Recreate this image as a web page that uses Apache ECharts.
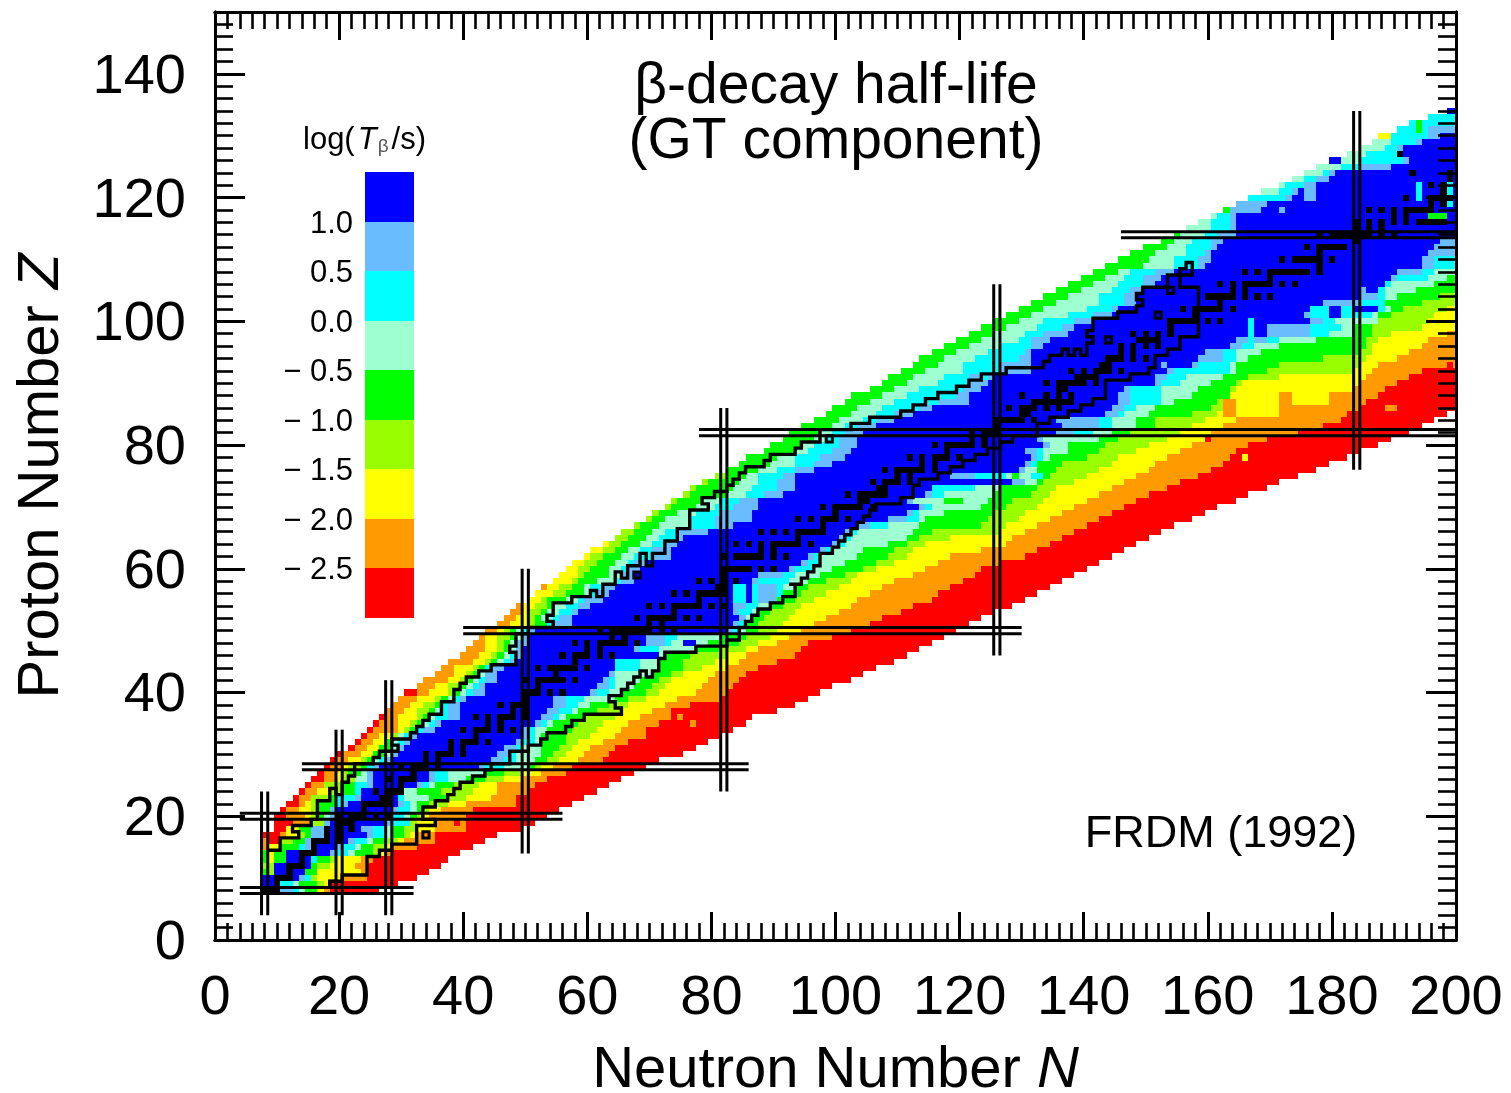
<!DOCTYPE html>
<html>
<head>
<meta charset="utf-8">
<style>html,body{margin:0;padding:0;background:#fff}#c{width:1511px;height:1093px}</style>
<script src="https://cdn.jsdelivr.net/npm/echarts@6/dist/echarts.min.js"></script>
</head>
<body>
<div id="c"></div>
<script>
// Colour classes of log(T/s), from shortest to longest half-life
const bandColors = ['#ff0000','#ff9b00','#ffff00','#99ff00','#00ff00','#9effd0','#00ffff','#69bdff','#0000ff'];
const legendEdges = [-3,-2.5,-2,-1.5,-1,-0.5,0,0.5,1,1.5];
const legendTicks = [1,0.5,0,-0.5,-1,-1.5,-2,-2.5];
const xMajor = [0,20,40,60,80,100,120,140,160,180,200];
const yMajor = [0,20,40,60,80,100,120,140];
const magicN = [[8,4,24],[20,4,34],[28,4,42],[50,14,60],[82,24,86],[126,46,106],[184,76,134]];
const magicZ = [[8,4,32],[20,4,56],[28,14,86],[50,40,130],[82,78,201],[114,146,201]];

// One row per proton number: first N of each colour run across the chart
// [red,orange,yellow,yg,green,mint,cyan,ltblue,blue, ltblue,cyan,mint,green,yg,yellow,orange,red, end]
const z8=[8,8,8,8,8,8,8,8,8,11,13,14,15,17,17,18,19,27];
const z9=[8,8,8,8,8,8,8,8,8,11,11,13,14,17,18,19,19,30];
const z10=[8,8,8,8,8,8,8,8,8,14,15,16,16,16,17,21,25,33];
const z11=[8,8,8,8,8,10,10,10,10,15,15,15,15,17,17,24,25,35];
const z12=[8,8,8,8,10,10,10,10,10,16,16,16,16,17,19,23,25,37];
const z13=[8,8,8,8,8,12,12,12,12,16,16,17,17,19,20,24,26,38];
const z14=[8,8,8,8,8,12,12,12,12,19,20,22,23,26,27,28,29,40];
const z15=[8,8,9,11,11,14,14,15,16,20,21,23,24,26,28,29,33,42];
const z16=[8,11,11,11,13,15,15,15,16,22,23,25,26,28,30,31,36,44];
const z17=[8,11,12,14,15,16,16,16,18,25,26,28,29,31,32,33,36,46];
const z18=[10,12,12,14,14,16,16,16,18,24,26,28,29,31,33,36,41,50];
const z19=[10,13,16,16,18,18,18,18,19,28,29,32,32,32,33,36,41,52];
const z20=[10,12,15,16,17,18,19,19,20,28,29,31,32,33,34,35,41,54];
const z21=[11,12,14,16,17,19,19,19,20,29,30,32,33,34,35,37,42,56];
const z22=[12,14,15,16,17,20,20,21,22,30,31,32,33,35,38,41,49,58];
const z23=[13,14,16,16,19,20,20,23,24,30,30,31,35,38,41,45,49,60];
const z24=[14,15,17,19,21,23,23,24,24,30,30,31,33,37,42,46,51,62];
const z25=[15,16,18,18,21,23,23,25,26,33,34,35,36,39,43,46,52,64];
const z26=[16,18,20,21,23,23,25,25,26,35,36,38,41,44,47,50,54,66];
const z27=[17,18,20,21,22,24,25,25,26,35,36,38,44,47,50,53,57,68];
const z28=[18,19,21,22,24,25,25,26,27,43,44,47,51,52,53,55,58,70];
const z29=[19,20,22,24,25,26,27,28,29,45,47,49,52,54,56,59,63,72];
const z30=[20,21,24,26,26,28,29,29,30,46,48,49,53,55,57,60,64,76];
const z31=[22,23,25,27,27,29,30,30,31,47,49,50,53,56,58,61,65,78];
const z32=[23,24,26,28,28,29,30,31,32,49,50,52,53,57,59,63,67,80];
const z33=[24,25,27,29,30,30,31,32,33,50,51,52,53,57,61,65,70,82];
const z34=[25,26,30,31,32,33,33,34,36,50,51,52,54,58,62,66,70,84];
const z35=[26,27,30,32,33,34,35,36,37,52,53,54,55,59,63,67,72,86];
const z36=[27,28,30,33,34,35,36,38,40,53,55,56,57,60,65,69,74,87];
const z37=[28,28,31,33,35,36,37,38,40,54,56,58,59,62,66,71,74,91];
const z38=[29,29,32,34,36,37,37,38,40,55,57,59,61,64,67,73,77,94];
const z39=[30,30,33,36,37,38,39,40,41,55,57,60,65,67,70,75,82,96];
const z40=[31,33,35,38,39,40,41,42,44,61,62,64,66,70,72,78,83,98];
const z41=[33,33,36,38,40,41,42,43,44,62,64,65,68,71,73,79,84,100];
const z42=[34,34,38,40,41,42,43,44,46,63,64,65,69,72,74,80,85,103];
const z43=[36,36,39,41,42,43,44,44,46,64,65,65,71,74,76,81,86,105];
const z44=[37,37,39,42,43,44,44,45,47,65,65,69,72,76,79,83,88,107];
const z45=[38,38,42,44,45,46,47,48,49,65,65,69,72,76,81,85,91,110];
const z46=[40,40,43,45,46,47,48,49,50,72,72,72,73,77,83,86,94,112];
const z47=[41,41,44,46,47,48,49,49,50,68,69,72,78,82,86,88,95,114];
const z48=[42,42,44,46,47,48,49,49,51,70,73,74,80,85,88,91,96,116];
const z49=[43,43,44,46,48,49,50,50,51,70,73,75,82,86,90,93,100,118];
const z50=[44,44,46,47,48,49,50,51,52,83,84,85,86,88,91,95,103,120];
const z51=[46,46,48,51,52,54,54,55,58,84,85,86,86,88,92,97,106,122];
const z52=[47,47,49,51,52,53,55,56,58,85,86,86,87,89,93,99,108,124];
const z53=[48,48,50,51,53,54,56,58,59,84,85,87,88,90,94,101,111,126];
const z54=[49,49,50,52,54,55,57,59,61,84,86,88,90,92,95,103,113,129];
const z55=[51,51,51,53,54,57,59,60,63,84,84,90,91,94,97,104,116,131];
const z56=[52,52,52,55,57,60,61,62,64,84,84,92,92,95,99,106,117,133];
const z57=[53,53,54,56,58,60,61,63,65,84,84,92,94,96,101,108,119,135];
const z58=[55,55,55,58,59,62,65,66,68,87,88,93,96,99,103,110,121,137];
const z59=[56,56,56,59,60,64,66,66,68,88,92,94,98,102,104,113,123,139];
const z60=[57,57,57,59,61,64,66,67,69,93,94,97,100,105,107,115,124,141];
const z61=[58,58,58,60,62,65,67,68,70,95,96,98,102,107,110,117,127,143];
const z62=[60,60,60,61,63,66,68,71,74,96,97,98,104,109,112,119,131,145];
const z63=[61,61,61,63,65,67,69,71,74,98,99,100,105,110,113,124,133,147];
const z64=[63,63,63,64,66,69,71,73,75,100,101,102,109,112,115,128,135,149];
const z65=[65,65,65,65,67,70,72,75,76,101,102,103,112,114,119,129,137,151];
const z66=[66,66,66,66,68,71,73,75,81,102,103,104,113,116,127,131,139,153];
const z67=[68,68,68,68,69,72,77,81,84,104,106,109,114,124,128,133,141,155];
const z68=[70,70,70,70,71,73,77,81,87,109,112,114,115,125,130,135,143,158];
const z69=[71,71,71,71,72,75,78,82,87,112,113,114,118,126,131,137,145,160];
const z70=[73,73,73,73,74,78,81,84,88,114,115,116,124,128,133,139,147,162];
const z71=[74,74,74,74,75,79,82,85,88,112,113,113,125,129,134,141,149,165];
const z72=[76,76,76,76,77,83,86,89,92,115,116,118,126,132,135,143,151,167];
const z73=[77,77,77,77,78,84,87,91,94,116,116,120,127,133,136,145,154,170];
const z74=[79,79,79,79,80,85,88,91,94,129,131,131,133,134,139,147,156,172];
const z75=[81,81,81,81,83,86,88,92,94,119,123,128,129,135,141,149,159,175];
const z76=[83,83,83,83,83,88,91,94,97,130,131,131,133,136,143,151,161,178];
const z77=[85,85,85,85,85,90,94,97,100,131,132,133,133,137,145,152,163,180];
const z78=[86,86,86,86,86,91,94,98,102,132,133,134,135,141,146,154,164,183];
const z79=[89,89,89,89,89,94,96,100,103,131,133,134,138,143,149,156,165,185];
const z80=[90,90,90,90,90,95,97,101,104,134,135,135,138,144,151,158,167,188];
const z81=[92,92,92,92,92,97,99,101,104,133,134,134,143,146,154,160,170,190];
const z82=[93,93,93,93,93,98,100,102,105,136,139,142,145,148,156,161,175,193];
const z83=[95,95,95,95,95,100,102,104,107,137,143,145,149,152,158,163,179,195];
const z84=[97,97,97,97,97,101,105,107,110,136,143,145,149,152,160,165,182,197];
const z85=[99,99,99,99,99,103,107,110,113,144,146,147,151,158,162,166,183,199];
const z86=[100,100,100,100,100,104,108,114,116,145,147,149,152,161,164,170,185,201];
const z87=[102,102,102,102,102,106,110,117,122,146,148,153,155,162,164,176,186,201];
const z88=[103,103,103,103,103,108,112,120,122,146,148,153,158,164,164,180,188,201];
const z89=[106,106,106,106,106,110,114,121,124,147,148,153,159,164,165,184,189,201];
const z90=[108,108,108,108,108,112,117,122,125,152,153,156,161,165,166,185,191,201];
const z91=[109,109,109,109,109,113,118,122,126,152,154,157,163,167,172,186,193,201];
const z92=[111,111,111,111,111,115,121,127,132,154,155,164,165,170,184,187,195,201];
const z93=[113,113,113,113,113,117,121,127,132,158,159,164,165,172,185,188,201,201];
const z94=[114,114,114,114,114,118,123,130,132,159,163,165,167,179,186,191,201,201];
const z95=[116,116,116,116,116,120,125,131,132,160,163,165,169,185,187,193,201,201];
const z96=[118,118,118,118,118,122,127,132,134,164,166,167,172,186,187,195,201,201];
const z97=[120,120,120,120,120,124,130,132,135,165,170,172,178,186,188,196,201,201];
const z98=[122,122,122,122,122,126,131,134,138,170,177,180,184,187,190,199,201,201];
const z99=[124,124,124,124,124,128,133,137,139,170,177,182,184,187,195,201,201,201];
const z100=[126,126,126,126,126,130,134,139,142,177,179,181,188,188,196,201,201,201];
const z101=[128,128,128,128,128,132,138,142,145,176,177,187,188,190,197,201,201,201];
const z102=[130,130,130,130,130,134,141,145,146,177,177,189,190,192,199,201,201,201];
const z103=[132,132,132,132,132,136,143,147,149,179,185,189,189,195,201,201,201,201];
const z104=[134,134,134,134,134,138,143,147,149,186,188,189,191,198,201,201,201,201];
const z105=[136,136,136,136,136,140,145,148,150,188,188,189,194,201,201,201,201,201];
const z106=[138,138,138,138,138,142,146,150,152,189,189,190,197,201,201,201,201,201];
const z107=[140,140,140,140,140,144,147,150,153,190,191,196,199,201,201,201,201,201];
const z108=[142,142,142,142,142,146,148,152,155,191,195,197,201,201,201,201,201,201];
const z109=[144,144,144,144,144,150,155,159,160,195,197,201,201,201,201,201,201,201];
const z110=[146,146,146,146,146,151,155,159,161,195,197,201,201,201,201,201,201,201];
const z111=[148,148,148,148,148,152,157,160,161,196,201,201,201,201,201,201,201,201];
const z112=[150,150,150,150,150,154,157,161,162,197,201,201,201,201,201,201,201,201];
const z113=[153,153,153,153,153,155,158,161,163,198,201,201,201,201,201,201,201,201];
const z114=[155,155,155,155,155,156,160,162,165,201,201,201,201,201,201,201,201,201];
const z115=[157,157,157,157,157,157,161,164,165,201,201,201,201,201,201,201,201,201];
const z116=[159,159,159,159,159,159,161,164,165,201,201,201,201,201,201,201,201,201];
const z117=[161,161,161,161,161,161,162,164,165,201,201,201,201,201,201,201,201,201];
const z118=[163,163,163,163,163,164,164,164,169,201,201,201,201,201,201,201,201,201];
const z119=[165,165,165,165,165,165,165,165,170,201,201,201,201,201,201,201,201,201];
const z120=[167,167,167,167,167,167,167,173,174,201,201,201,201,201,201,201,201,201];
const z121=[169,169,169,169,169,169,172,174,175,201,201,201,201,201,201,201,201,201];
const z122=[172,172,172,172,172,172,173,176,178,201,201,201,201,201,201,201,201,201];
const z123=[174,174,174,174,174,174,176,178,180,201,201,201,201,201,201,201,201,201];
const z124=[176,176,176,176,176,176,179,180,181,201,201,201,201,201,201,201,201,201];
const z125=[178,178,178,178,178,178,182,185,190,201,201,201,201,201,201,201,201,201];
const z126=[180,180,180,180,180,180,185,192,193,201,201,201,201,201,201,201,201,201];
const z127=[183,183,183,183,183,183,186,191,193,201,201,201,201,201,201,201,201,201];
const z128=[185,185,185,185,185,185,189,191,194,201,201,201,201,201,201,201,201,201];
const z129=[187,187,187,187,187,187,190,194,195,201,201,201,201,201,201,201,201,201];
const z130=[188,188,188,190,190,190,190,196,198,201,201,201,201,201,201,201,201,201];
const z131=[191,191,191,191,191,191,191,196,201,201,201,201,201,201,201,201,201,201];
const z132=[193,193,193,193,193,193,193,201,201,201,201,201,201,201,201,201,201,201];
const z133=[196,196,196,196,196,196,196,201,201,201,201,201,201,201,201,201,201,201];
const z134=[199,199,199,199,199,199,199,199,199,201,201,201,201,201,201,201,201,201];
const rowList=[z8,z9,z10,z11,z12,z13,z14,z15,z16,z17,z18,z19,z20,z21,z22,z23,z24,z25,z26,z27,z28,z29,z30,z31,z32,z33,z34,z35,z36,z37,z38,z39,z40,z41,z42,z43,z44,z45,z46,z47,z48,z49,z50,z51,z52,z53,z54,z55,z56,z57,z58,z59,z60,z61,z62,z63,z64,z65,z66,z67,z68,z69,z70,z71,z72,z73,z74,z75,z76,z77,z78,z79,z80,z81,z82,z83,z84,z85,z86,z87,z88,z89,z90,z91,z92,z93,z94,z95,z96,z97,z98,z99,z100,z101,z102,z103,z104,z105,z106,z107,z108,z109,z110,z111,z112,z113,z114,z115,z116,z117,z118,z119,z120,z121,z122,z123,z124,z125,z126,z127,z128,z129,z130,z131,z132,z133,z134];
const firstZ = 8;
const bandOrder = [0,1,2,3,4,5,6,7,8,7,6,5,4,3,2,1,0];

// Isolated cells that break the run pattern: [N0,N1,Z0,Z1,colour]
const islands = [
 [9,9,11,11,3],[9,9,13,14,2],[8,8,16,16,1],[39,39,19,19,0],[75,75,36,36,1],[77,77,35,35,1],
 [76,77,48,48,8],[80,80,66,66,8],[93,93,73,73,7],[124,124,91,91,6],[86,86,55,57,8],[88,90,55,57,7],
 [118,120,71,71,4],[120,122,73,73,6],[123,125,73,73,5],[130,131,75,75,5],[132,133,75,75,6],
 [153,153,93,93,7],[167,167,96,100,6],[180,181,101,102,8],[184,187,102,102,8],[185,185,104,105,7],
 [172,172,118,118,7],[176,177,120,121,7],[180,181,126,126,8],[192,193,127,128,8],[196,198,117,117,4],
 [194,194,120,122,6],[198,199,119,119,6],[199,199,121,122,6],[194,194,131,132,4],[199,199,93,93,0],
 [189,190,86,86,1],[160,160,81,81,0],[166,166,78,78,2],
 [163,164,85,87,1],[165,171,85,87,2],[172,174,85,88,1],[174,179,87,88,2]
];

// Black cells, one list of N per Z starting at Z=8
const blackN = [
[8,9,10],[10],[10,11,12],[12],[12,13,14],[14],[14,15,16],[16],[16,17,18,20],[18,20],[18,20,22],[20,21,22],
[20,22,23,24,26,28],[24],[24,25,26,27,28],[27,28],[26,28,29,30],[30],[28,30,31,32],[32],[30,32,33,34,36],[34,36],
[34,36,37,38,40],[38,40],[38,40,41,42,44],[42],[40,42,43,44,46,48],[44,46],[42,44,46,47,48,50],[48,50],
[46,48,49,50],[50],[50,51,52,54,56],[52],[50,52,53,54,55,56,58],[55],[52,54,55,56,57,58,60],[58],
[56,58,59,60,62,64],[60,62],[58,60,62,63,64,65,66,68],[64,66],[62,64,65,66,67,68,69,70,72,74],[70,72],
[68,70,71,72,73,74,76,78],[74],[70,72,74,75,76,77,78,80,82],[78],[74,76,78,79,80,81,82],[81,82],[78,80,82,84],[82],
[82,83,84,85,86,88,90],[],[82,84,85,86,87,88,90,92],[88,90],[84,86,88,90,91,92,93,94,96],[94],
[88,90,92,94,95,96,97,98],[98],[94,96,98,99,100,102],[100],[98,100,101,102,103,104,106],[104,105],
[102,104,105,106,107,108],[107,108],[106,108,109,110,112],[110,112],[108,110,111,112,113,114,116],[114,116],
[112,114,116,117,118,120],[118],[116,118,119,120,121,122,124],[122,124],[122,124,125,126],[126],
[126,127,128,129,130,132],[130,131],[128,130,131,132,134,136],[132,133,134,135,136,137,138],[130,134,136,138],[136,137],
[134,136,137,138,139,140,142],[139,140,141,142],[138,140,142,143,144,146],[143,144],[144,145,146,148,150],[146,148],
[146,148,150,152],[149,150,151,152],[148,150,152,154],[154],[154,155,156,157,158,160,162],[158],
[156,158,159,160,161,162,164],[162],[160,161,162,163,164,166,168,170],[164,166],[162,164,166,167,168,169,170,172,174],[170],
[166,168,170,171,172,173,174,175,176,178],[178],[172,174,175,176,177,178,180],[178],[176,178,179,180,181,182],[184],
[178,180,181,182,183,184,185,186,188,190],[184,186,188],[184,186,188,190,192,194,195,196,197,198],[190,192],
[186,188,190,192,193,194,195,196],[196,198],[192,196,197,198,199],[198],[196,198],[199],[193,199],[],[],[191]
];

// Limit of the measured nuclei, corner points [N,Z]
const knownEdge = [[8.5,14.5],[10.5,16.5],[13.5,17.5],[12.5,18.5],[15.5,19.5],[16.5,22.5],[18.5,24.5],[19.5,23.5],[20.5,25.5],[21.5,26.5],[22.5,28.5],[25.5,29.5],[26.5,30.5],[29.5,31.5],[28.5,32.5],[31.5,33.5],[32.5,34.5],[33.5,35.5],[34.5,36.5],[36.5,38.5],[38.5,40.5],[39.5,41.5],[40.5,42.5],[42.5,43.5],[44.5,44.5],[48.5,46.5],[47.5,47.5],[48.5,49.5],[50.5,50.5],[54.5,51.5],[53.5,52.5],[54.5,54.5],[57.5,55.5],[60.5,56.5],[61.5,55.5],[62.5,57.5],[64.5,59.5],[65.5,58.5],[66.5,60.5],[68.5,62.5],[69.5,60.5],[70.5,62.5],[72.5,64.5],[74.5,66.5],[76.5,69.5],[79.5,70.5],[78.5,71.5],[80.5,72.5],[82.5,73.5],[83.5,74.5],[84.5,75.5],[85.5,76.5],[88.5,77.5],[89.5,78.5],[93.5,79.5],[94.5,80.5],[97.5,81.5],[97.5,82.5],[102.5,83.5],[105.5,84.5],[110.5,85.5],[112.5,86.5],[114.5,87.5],[116.5,88.5],[119.5,89.5],[121.5,90.5],[123.5,91.5],[127.5,92.5],[133.5,93.5],[134.5,94.5],[136.5,95.5],[137.5,94.5],[138.5,95.5],[139.5,94.5],[140.5,96.5],[141.5,97.5],[140.5,98.5],[141.5,100.5],[145.5,101.5],[148.5,102.5],[149.5,103.5],[148.5,104.5],[149.5,105.5],[153.5,107.5],[155.5,108.5],[156.5,109.5],[157.5,107.5],[155.5,105.5],[157.5,105.5],[158.5,103.5],[158.5,97.5],[155.5,95.5],[153.5,94.5],[151.5,92.5],[150.5,91.5],[147.5,90.5],[143.5,87.5],[141.5,86.5],[139.5,85.5],[137.5,84.5],[134.5,83.5],[132.5,81.5],[128.5,80.5],[126.5,79.5],[124.5,78.5],[122.5,77.5],[120.5,76.5],[118.5,75.5],[116.5,74.5],[113.5,73.5],[112.5,71.5],[110.5,70.5],[106.5,69.5],[105.5,68.5],[104.5,67.5],[103.5,66.5],[102.5,65.5],[101.5,64.5],[100.5,63.5],[99.5,62.5],[97.5,61.5],[97.5,60.5],[96.5,59.5],[95.5,58.5],[94.5,57.5],[92.5,57.5],[93.5,55.5],[91.5,54.5],[89.5,53.5],[87.5,52.5],[86.5,51.5],[85.5,50.5],[84.5,48.5],[82.5,47.5],[77.5,46.5],[72.5,45.5],[71.5,43.5],[70.5,42.5],[69.5,43.5],[68.5,42.5],[67.5,41.5],[66.5,40.5],[65.5,39.5],[63.5,38.5],[64.5,37.5],[65.5,36.5],[59.5,35.5],[57.5,34.5],[56.5,33.5],[53.5,32.5],[52.5,31.5],[50.5,30.5],[47.5,28.5],[44.5,27.5],[43.5,26.5],[41.5,25.5],[39.5,24.5],[38.5,23.5],[37.5,22.5],[35.5,21.5],[33.5,20.5],[33.5,19.5],[35.5,18.5],[32.5,17.5],[32.5,15.5],[28.5,14.5],[26.5,13.5],[24.5,12.5],[24.5,10.5],[20.5,9.5],[18.5,8.5]];
const boxedCells = [[19,9],[34,17],[68,59],[99,81],[144,97],[154,105],[152,101]];

const xMinor=[]; for(let v=0;v<=200;v+=2) xMinor.push(v);
const yMinor=[]; for(let v=0;v<=148;v+=2) yMinor.push(v);

const runs=[];
rowList.forEach((r,i)=>{const z=firstZ+i;
  for(let b=0;b<bandOrder.length;b++){ if(r[b+1]>r[b]) runs.push([r[b],r[b+1]-1,z,z,bandOrder[b]]); }
});
islands.forEach(p=>runs.push(p));
const black=[];
blackN.forEach((list,i)=>list.forEach(n=>black.push([n,n,firstZ+i,firstZ+i,9])));

const FONT='"Liberation Sans",Arial,sans-serif';
const cellRender=(params,api)=>{
  const a=api.coord([api.value(0)-0.5,api.value(3)+0.5]);
  const b=api.coord([api.value(1)+0.5,api.value(2)-0.5]);
  const c=api.value(4);
  const x=Math.round(a[0]),y=Math.round(a[1]);
  return {type:'rect',shape:{x:x,y:y,width:Math.round(b[0])-x,height:Math.round(b[1])-y},
    style:{fill:c===9?'#000':bandColors[c]}};
};
const magicRender=vertical=>(params,api)=>{
  const p=api.value(0),f=api.value(1),t=api.value(2);
  const kids=[-0.5,0.5].map(d=>{
    const a=vertical?api.coord([p+d,f]):api.coord([f,p+d]);
    const b=vertical?api.coord([p+d,t]):api.coord([t,p+d]);
    return {type:'line',shape:{x1:a[0],y1:a[1],x2:b[0],y2:b[1]},style:{stroke:'#000',lineWidth:3}};
  });
  return {type:'group',children:kids};
};
const axisCommon={min:0,splitLine:{show:false},z:6};
function xAx(pos,values,len,w,labels){return Object.assign({type:'value',max:200,position:pos,gridIndex:0,
  axisLine:{show:true,onZero:false,lineStyle:{color:'#000',width:3}},
  axisTick:{show:true,inside:true,length:len,customValues:values,lineStyle:{color:'#000',width:w}},
  axisLabel:labels?{show:true,customValues:xMajor,color:'#000',fontFamily:FONT,fontSize:56,margin:31,hideOverlap:false}:{show:false}},axisCommon);}
function yAx(pos,values,len,w,labels){return Object.assign({type:'value',max:150,position:pos,gridIndex:0,
  axisLine:{show:true,onZero:false,lineStyle:{color:'#000',width:3}},
  axisTick:{show:true,inside:true,length:len,customValues:values,lineStyle:{color:'#000',width:w}},
  axisLabel:labels?{show:true,customValues:yMajor,margin:29,hideOverlap:false,formatter:v=>'{a|'+v+'}',
    rich:{a:{color:'#000',fontFamily:FONT,fontSize:56,padding:[7,0,0,0]}}}:{show:false}},axisCommon);}

const xs=[xAx('bottom',xMajor,28,3,true),xAx('bottom',xMinor,17,2.6,false),xAx('top',xMajor,28,3,false),xAx('top',xMinor,17,2.6,false)];
const ys=[yAx('left',yMajor,30,3,true),yAx('left',yMinor,18,2.6,false),yAx('right',yMajor,30,3,false),yAx('right',yMinor,18,2.6,false)];
xs[0].name='Neutron Number {i|N}';xs[0].nameLocation='middle';xs[0].nameGap=102;
xs[0].nameTextStyle={color:'#000',fontFamily:FONT,fontSize:58,rich:{i:{fontStyle:'italic',fontSize:58,fontFamily:FONT,color:'#000'}}};
ys[0].name='Proton Number {i|Z}';ys[0].nameLocation='middle';ys[0].nameGap=144;
ys[0].nameTextStyle={color:'#000',fontFamily:FONT,fontSize:58,rich:{i:{fontStyle:'italic',fontSize:58,fontFamily:FONT,color:'#000'}}};
xs.push({type:'value',gridIndex:1,min:0,max:1,show:false});
ys.push({type:'value',gridIndex:1,min:-3,max:1.5,interval:0.5,position:'left',splitLine:{show:false},
  axisLine:{show:false},axisTick:{show:false},
  axisLabel:{show:true,customValues:legendTicks,margin:12,
    formatter:v=>'{a|'+(v<0?'\u2212 '+Math.abs(v).toFixed(1):v.toFixed(1))+'}',
    rich:{a:{color:'#000',fontFamily:FONT,fontSize:31,padding:[5,0,0,0]}}}});

const legendData=legendEdges.slice(0,-1).map((e,i)=>[e,legendEdges[i+1],i]);

const option={
 animation:false,
 backgroundColor:'#fff',
 grid:[{left:215,top:12,width:1241,height:928,outerBoundsMode:'none'},{left:365,top:172,width:49,height:446,outerBoundsMode:'none'}],
 xAxis:xs,yAxis:ys,
 title:[
  {text:'\u03b2-decay half-life',left:831,top:54,textAlign:'center',textStyle:{fontFamily:FONT,fontSize:57,fontWeight:'normal',color:'#000'}},
  {text:'(GT component)',left:831,top:109,textAlign:'center',textStyle:{fontFamily:FONT,fontSize:57,fontWeight:'normal',color:'#000'}},
  {text:'FRDM (1992)',left:1216,top:807,textAlign:'center',textStyle:{fontFamily:FONT,fontSize:45,fontWeight:'normal',color:'#000'}},
  {text:'log({i|T}{s|\u03b2}/s)',left:298,top:120,textStyle:{fontFamily:FONT,fontSize:31,fontWeight:'normal',color:'#000',
    rich:{i:{fontStyle:'italic',fontSize:31,fontFamily:FONT,color:'#000',padding:[0,1,0,3]},s:{fontSize:19,fontFamily:FONT,color:'#555',verticalAlign:'bottom',padding:[10,3,0,0]}}}}
 ],
 series:[
  {type:'custom',name:'half-life',xAxisIndex:0,yAxisIndex:0,coordinateSystem:'cartesian2d',clip:true,z:2,silent:true,
    renderItem:cellRender,data:runs,encode:{x:[0,1],y:[2,3]},dimensions:['n0','n1','z0','z1','c']},
  {type:'custom',name:'stable',xAxisIndex:0,yAxisIndex:0,clip:true,z:3,silent:true,renderItem:cellRender,data:black,encode:{x:[0,1],y:[2,3]}},
  {type:'line',name:'measured',xAxisIndex:0,yAxisIndex:0,data:knownEdge,step:'end',showSymbol:false,symbol:'none',z:4,silent:true,
    lineStyle:{color:'#000',width:3.4,join:'miter'}},
  {type:'custom',name:'boxes',xAxisIndex:0,yAxisIndex:0,z:4,silent:true,data:boxedCells,encode:{x:0,y:1},
    renderItem:(p,api)=>{const a=api.coord([api.value(0)-0.5,api.value(1)+0.5]),b=api.coord([api.value(0)+0.5,api.value(1)-0.5]);
      return {type:'rect',shape:{x:a[0],y:a[1],width:b[0]-a[0],height:b[1]-a[1]},style:{fill:null,stroke:'#000',lineWidth:3}};}},
  {type:'custom',name:'magic N',xAxisIndex:0,yAxisIndex:0,clip:true,z:5,silent:true,data:magicN,encode:{x:0,y:[1,2]},renderItem:magicRender(true)},
  {type:'custom',name:'magic Z',xAxisIndex:0,yAxisIndex:0,clip:true,z:5,silent:true,data:magicZ,encode:{y:0,x:[1,2]},renderItem:magicRender(false)},
  {type:'custom',name:'legend',xAxisIndex:4,yAxisIndex:4,z:3,silent:true,data:legendData,encode:{y:[0,1]},
    renderItem:(p,api)=>{const a=api.coord([0,api.value(1)]),b=api.coord([1,api.value(0)]);
      return {type:'rect',shape:{x:a[0],y:Math.round(a[1]),width:b[0]-a[0],height:Math.round(b[1])-Math.round(a[1])},style:{fill:bandColors[api.value(2)]}};}}
 ]
};
echarts.init(document.getElementById('c'),null,{renderer:'canvas'}).setOption(option);
</script>
</body>
</html>
